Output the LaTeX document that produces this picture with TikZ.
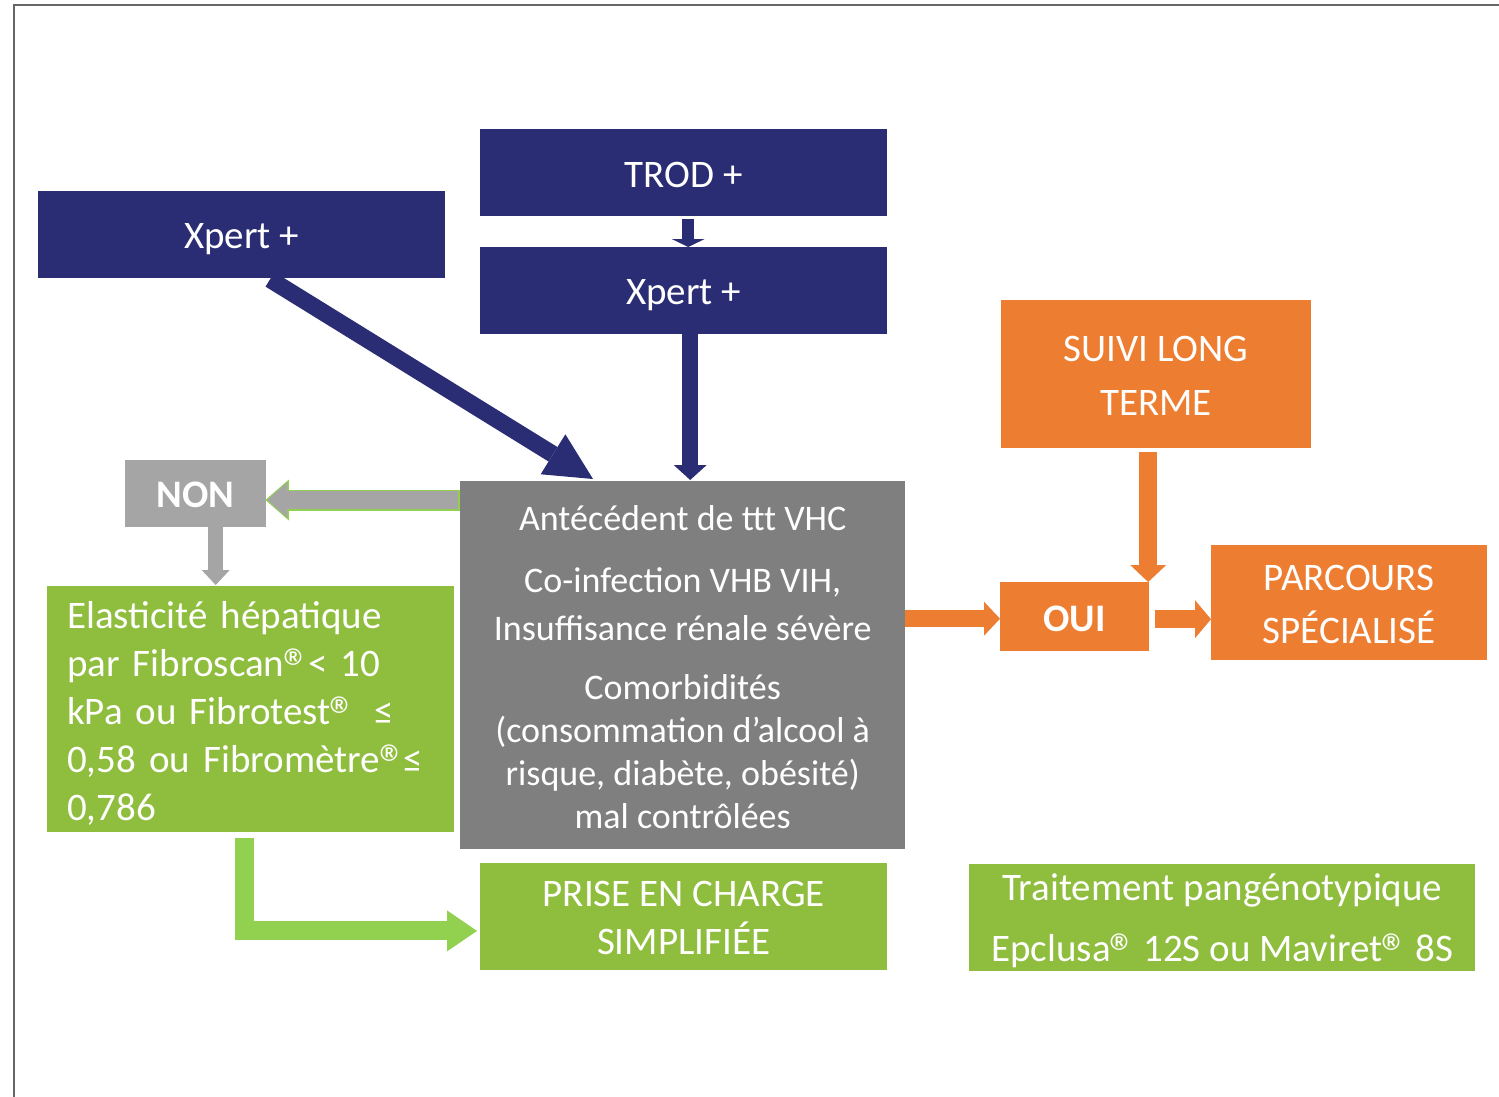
\documentclass[tikz,border=0pt]{standalone}
\usepackage{fontspec}
\setmainfont{Carlito}
\usetikzlibrary{arrows.meta,calc}
\newcommand\regmark{\kern-1pt\raisebox{-10pt}[25pt][0pt]{\scalebox{1.4}{®}}\kern-3pt}
\definecolor{navy}{RGB}{43,45,116}
\definecolor{greybox}{RGB}{127,127,127}
\definecolor{nongrey}{RGB}{165,165,165}
\definecolor{boxgreen}{RGB}{143,189,62}
\definecolor{arrowgreen}{RGB}{146,208,80}
\definecolor{outlinegreen}{RGB}{146,208,80}
\definecolor{orangec}{RGB}{237,125,49}
\definecolor{framec}{RGB}{102,102,102}
\begin{document}
\begin{tikzpicture}[x=1pt,y=-1pt,
  box/.style={inner sep=0pt, anchor=north west},
  txt/.style={inner sep=0pt, text=white, align=center,
    font=\fontsize{39}{48}\selectfont},
  blk/.style={line cap=butt, line join=miter},
  tipa/.style n args={2}{-{Triangle[length=#1,width=#2,line width=0pt]}}
]
\useasboundingbox (0,0) rectangle (1499,1097);
% frame
\draw[framec, line width=2pt, line join=miter] (14,1097) -- (14,5) -- (1499,5);

% boxes
\node[box, fill=navy, minimum width=407pt, minimum height=87pt] (xl) at (38,191) {};
\node[box, fill=navy, minimum width=407pt, minimum height=87pt] (trod) at (480,129) {};
\node[box, fill=navy, minimum width=407pt, minimum height=87pt] (xc) at (480,247) {};
\node[box, fill=greybox, minimum width=445pt, minimum height=368pt] (grey) at (460,481) {};
\node[box, fill=nongrey, minimum width=141pt, minimum height=67pt] (non) at (125,460) {};
\node[box, fill=boxgreen, minimum width=407pt, minimum height=246pt] (elast) at (47,586) {};
\node[box, fill=boxgreen, minimum width=407pt, minimum height=107pt] (prise) at (480,863) {};
\node[box, fill=boxgreen, minimum width=506pt, minimum height=107pt] (trait) at (969,864) {};
\node[box, fill=orangec, minimum width=310pt, minimum height=148pt] (suivi) at (1001,300) {};
\node[box, fill=orangec, minimum width=149pt, minimum height=69pt] (oui) at (1000,582) {};
\node[box, fill=orangec, minimum width=276pt, minimum height=115pt] (parc) at (1211,545) {};

% texts
\node[txt] (xlt) at ([yshift=-4.5pt]xl.center) {Xpert +};
\node[txt] (trodt) at ([yshift=-2pt]trod.center) {TROD +};
\node[txt] (xct) at ([yshift=-4.5pt]xc.center) {Xpert +};
\node[txt, font=\fontsize{36}{43}\selectfont] (greyt) at ([yshift=-2pt]grey.center)
  {Antécédent de ttt VHC\\[19pt]Co-infection VHB VIH,\\[5pt]Insuffisance rénale sévère\\[16pt]Comorbidités\\(consommation d’alcool à\\risque, diabète, obésité)\\mal contrôlées};
\node[txt, font=\fontsize{39}{48}\selectfont\bfseries] (nont) at ([yshift=-1pt]non.center) {NON};
\node[txt, text width=367pt, align=left] (elastt) at ([yshift=-4pt]elast.center)
  {Elasticité hépatique\\par Fibroscan\regmark< 10\\kPa ou Fibrotest\regmark\hspace{20pt}≤\\0,58 ou Fibromètre\regmark≤\\0,786};
\node[txt] (priset) at ([yshift=-1pt]prise.center) {PRISE EN CHARGE\\SIMPLIFIÉE};
\node[txt, font=\fontsize{39}{61}\selectfont] (traitt) at ([yshift=-3.5pt]trait.center)
  {Traitement pangénotypique\\Epclusa\regmark{} 12S ou Maviret\regmark{} 8S};
\node[txt, font=\fontsize{39}{54}\selectfont] (suivit) at ([yshift=-2pt]suivi.center) {SUIVI LONG\\TERME};
\node[txt, font=\fontsize{39}{48}\selectfont\bfseries] (ouit) at ([yshift=-2pt]oui.center) {OUI};
\node[txt, font=\fontsize{39}{53}\selectfont] (parct) at ([yshift=-2pt]parc.center) {PARCOURS\\SPÉCIALISÉ};

% navy arrows
\draw[blk, navy, line width=12pt, tipa={8pt}{33pt}]
  ([xshift=4.5pt,yshift=-3pt]trod.south) -- ([xshift=4.5pt]xc.north);
\draw[blk, navy, line width=16pt, tipa={15pt}{33pt}]
  ([xshift=6.5pt]xc.south) -- ([xshift=6.5pt,yshift=1pt]xc.south |- grey.north);
\coordinate (dstart) at ($(xl.south west)+(232,1)$);
\coordinate (dend) at ($(grey.north west)+(133,-2)$);
\draw[blk, navy, line width=17pt, tipa={47pt}{47pt}] (dstart) -- (dend);

% grey arrows
\coordinate (nstart) at ($(grey.north west)+(-2,19)$);
\coordinate (nend) at ($(non.north east)+(1,40)$);
\coordinate (nendo) at ($(non.north east)+(-1,40)$);
\draw[blk, outlinegreen, line width=21pt, tipa={23.5pt}{41pt}] ($(nstart)+(1.5,0)$) -- (nendo);
\draw[blk, nongrey, line width=18pt, tipa={20pt}{36pt}] (nstart) -- (nend);
\draw[blk, nongrey, line width=15pt, tipa={15pt}{28pt}]
  ([xshift=20pt]non.south) -- ([xshift=20pt,yshift=1pt]non.south |- elast.north);

% green L arrow
\coordinate (gstart) at ($(elast.south west)+(197.5,6)$);
\coordinate (gend) at ($(prise.south west)+(-3,-39.5)$);
\draw[blk, arrowgreen, line width=19pt, tipa={30pt}{41pt}] (gstart) |- (gend);

% orange arrows
\coordinate (ouiin) at ([yshift=-2pt]oui.west);
\draw[blk, orangec, line width=17pt, tipa={16pt}{34pt}] (grey.east |- ouiin) -- (ouiin);
\coordinate (ouiout) at ($(oui.east)+(6,2.5)$);
\draw[blk, orangec, line width=18pt, tipa={16pt}{38pt}] (ouiout) -- (parc.west |- ouiout);
\coordinate (sstart) at ($(suivi.south)+(-8,4)$);
\draw[blk, orangec, line width=18pt, tipa={17pt}{36pt}] (sstart) -- (sstart |- oui.north);
\end{tikzpicture}
\end{document}
